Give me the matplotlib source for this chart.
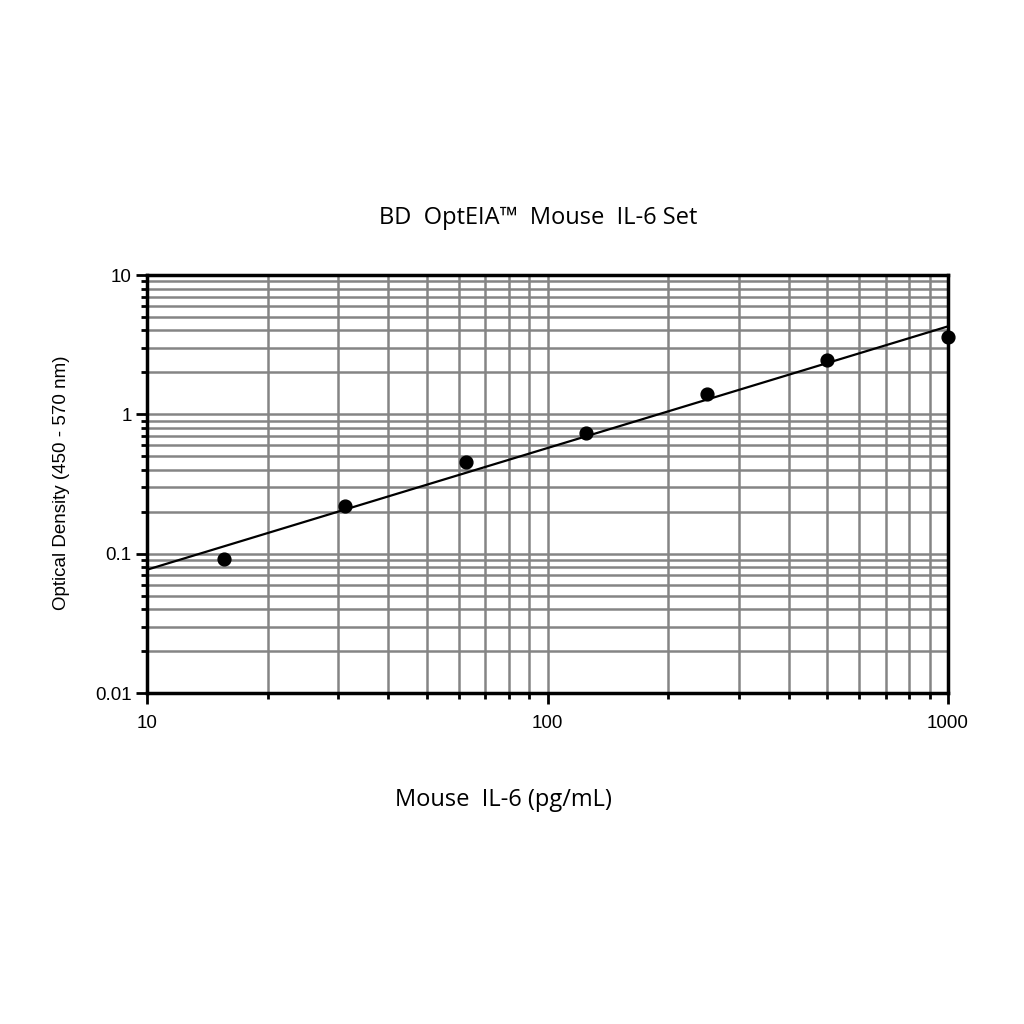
import matplotlib
matplotlib.use("Agg")
import matplotlib.pyplot as plt
from matplotlib.ticker import LogLocator, NullFormatter, FixedLocator, FixedFormatter

conc = [15.6, 31.25, 62.5, 125, 250, 500, 1000]
od = [0.092, 0.221, 0.457, 0.73, 1.39, 2.44, 3.57]
fit_x = [10, 1000]
fit_y = [0.0767, 4.28]

xticks = [10, 100, 1000]
xticklabels = ["10", "100", "1000"]
yticks = [0.01, 0.1, 1, 10]
yticklabels = ["0.01", "0.1", "1", "10"]

fig = plt.figure(figsize=(10.24, 10.24), dpi=100)
ax = fig.add_axes([147/1024, 1-693/1024, 801/1024, 418/1024])
ax.set_xscale("log")
ax.set_yscale("log")
ax.set_xlim(10, 1000)
ax.set_ylim(0.01, 10)

ax.xaxis.set_major_locator(FixedLocator(xticks))
ax.xaxis.set_major_formatter(FixedFormatter(xticklabels))
ax.yaxis.set_major_locator(FixedLocator(yticks))
ax.yaxis.set_major_formatter(FixedFormatter(yticklabels))
ax.xaxis.set_minor_locator(LogLocator(base=10, subs=range(2, 10)))
ax.yaxis.set_minor_locator(LogLocator(base=10, subs=range(2, 10)))
ax.xaxis.set_minor_formatter(NullFormatter())
ax.yaxis.set_minor_formatter(NullFormatter())

ax.grid(True, which="both", color="#858585", linewidth=1.8)
ax.set_axisbelow(True)

ax.plot(fit_x, fit_y, color="black", linewidth=1.6, zorder=3)
ax.scatter(conc, od, s=85, color="black", zorder=4, clip_on=False)

for s in ax.spines.values():
    s.set_linewidth(2.5)
    s.set_color("black")

ax.tick_params(which="major", direction="out", length=8, width=2, labelsize=13.5,
               colors="black")
ax.tick_params(which="minor", direction="out", length=4, width=2)
for lab in ax.get_xticklabels() + ax.get_yticklabels():
    lab.set_fontfamily(["Liberation Sans", "DejaVu Sans"])
ax.tick_params(axis="x", which="major", pad=8)
ax.tick_params(axis="y", which="major", pad=3)

fig.text(538/1024, 1-218/1024, "BD  OptEIA\u2122  Mouse  IL-6 Set", ha="center", va="center",
         fontsize=17, family=["Open Sans", "DejaVu Sans"])
fig.text(503/1024, 1-800/1024, "Mouse  IL-6 (pg/mL)", ha="center", va="center",
         fontsize=17, family=["Open Sans", "DejaVu Sans"])
fig.text(62/1024, 1-483/1024, "Optical Density (450 - 570 nm)", ha="center", va="center",
         rotation=90, fontsize=13.5, family=["Liberation Sans Narrow", "Liberation Sans", "DejaVu Sans"])

fig.savefig("out.png", dpi=100, facecolor="white")
